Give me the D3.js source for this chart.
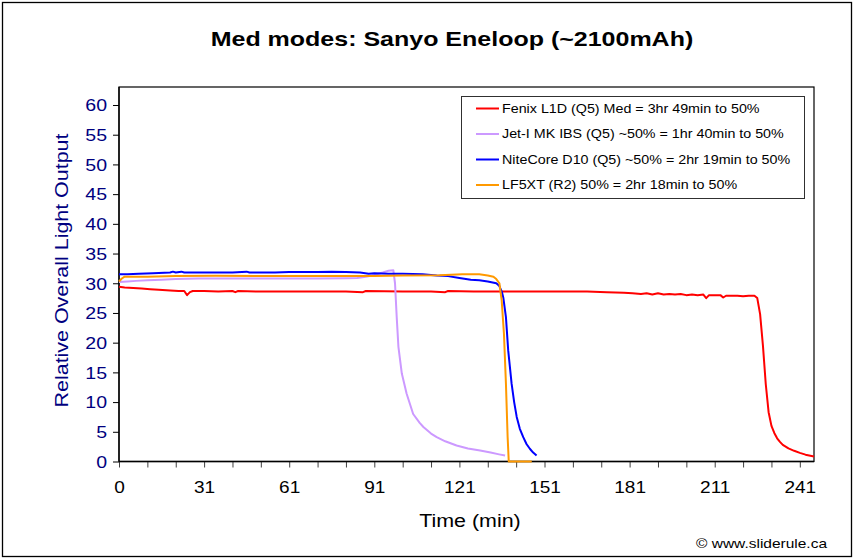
<!DOCTYPE html>
<html><head><meta charset="utf-8">
<script src="https://cdn.jsdelivr.net/npm/d3@7"></script>
<style>body{margin:0;background:#fff}svg{display:block}text{font-family:"Liberation Sans",Arial,sans-serif}</style>
</head><body>
<svg id="c" width="855" height="560"></svg>
<script>
const title = "Med modes: Sanyo Eneloop (~2100mAh)";
const xTitle = "Time (min)";
const yTitle = "Relative Overall Light Output";
const credit = "\u00A9 www.sliderule.ca";
const xTickIndex = [0,30,60,90,120,150,180,210,240];
const xTickLabels = ["0","31","61","91","121","151","181","211","241"];
const yTicks = [0,5,10,15,20,25,30,35,40,45,50,55,60];
const seriesNames = [
  "Fenix L1D (Q5) Med = 3hr 49min to 50%",
  "Jet-I MK IBS (Q5) ~50% = 1hr 40min to 50%",
  "NiteCore D10 (Q5) ~50% = 2hr 19min to 50%",
  "LF5XT (R2) 50% = 2hr 18min to 50%"
];
const seriesColors = ["#FF0000","#CC99FF","#0000FF","#FF9900"];

const fenixT = [0,2,5,8,11,14,18,21,23,24,25,26,30,35,40,41,42,50,60,70,80,86,87,100,110,115,116,125,135,145,155,165,172,178,181,184,186,188,190,192,194,196,198,200,202,204,206,207,208,210,212,213,214,216,218,220,222,224,225,226,227,228,229,230,231,232,233,234,236,238,240,242,245];
const fenixV = [29.4,29.3,29.2,29.1,29.0,28.9,28.8,28.7,28.7,28.0,28.5,28.7,28.7,28.6,28.7,28.5,28.7,28.6,28.6,28.6,28.6,28.5,28.7,28.6,28.6,28.5,28.7,28.6,28.6,28.6,28.6,28.6,28.5,28.4,28.3,28.2,28.3,28.1,28.3,28.1,28.2,28.1,28.2,28.0,28.1,28.0,28.1,27.5,28.0,28.0,28.0,27.6,27.9,27.9,27.9,27.8,27.9,27.9,27.5,24.8,19.5,13.0,8.3,6.0,4.8,3.9,3.3,2.8,2.2,1.8,1.45,1.15,0.85];

const jetT = [0,3,6,10,15,20,28,40,50,60,70,80,84,87,90,93,95,96.7,97.3,97.9,98.5,99.7,101.4,103.7,106,107.3,110,112,115,119,123,127.3,131,134,136.1];
const jetV = [30.2,30.3,30.4,30.5,30.6,30.7,30.8,30.8,30.8,30.8,30.8,30.85,30.9,31.1,31.4,31.8,32.1,32.2,30.0,24.3,19.3,14.8,11.4,8.0,6.5,5.8,4.7,4.1,3.4,2.7,2.2,1.85,1.5,1.2,1.0];

const niteT = [0,3,7,12,18,19,20,22,23,30,40,45,46,55,60,70,75,80,85,88,90,95,100,107,112,116,120,124,127,130,133,134,135,135.5,136.4,137.2,138.4,139.3,140.2,141.3,142.5,143.7,144.9,146,147.2];
const niteV = [31.5,31.5,31.6,31.7,31.8,31.95,31.8,31.95,31.8,31.8,31.8,31.95,31.8,31.8,31.9,31.9,31.95,31.9,31.8,31.6,31.7,31.6,31.6,31.5,31.3,31.2,30.9,30.6,30.5,30.3,30.0,29.6,28.5,27.5,24.3,18.7,13.1,10.0,7.5,5.5,4.1,2.9,2.1,1.5,1.0];

const lfT = [0,1,2,10,20,34,50,70,90,100,113,121,127,130,132,133,134.1,134.9,135.7,136.4,137,137.4,145.5];
const lfV = [30.3,30.8,31.1,31.1,31.2,31.25,31.2,31.2,31.2,31.3,31.35,31.5,31.5,31.3,31.1,30.7,30.0,27.1,21.5,13.1,4.1,0,0];

const seriesT = [fenixT, jetT, niteT, lfT];
const seriesV = [fenixV, jetV, niteV, lfV];

const svg = d3.select("#c");
const K = 1.19; // horizontal text stretch seen in the reference
function stretch(sel, k) {
  sel.each(function () {
    const w = this.getComputedTextLength();
    this.setAttribute("textLength", w * k);
    this.setAttribute("lengthAdjust", "spacingAndGlyphs");
  });
  return sel;
}

// outer frame
svg.append("rect").attr("x", 2.5).attr("y", 2.5).attr("width", 849).attr("height", 554)
  .attr("fill", "#fff").attr("stroke", "#000").attr("stroke-width", 1.3);

const L = 119, R = 814, T = 87, B = 461.5;
const x = d3.scaleLinear().domain([0, 245]).range([L, R]);
const y = d3.scaleLinear().domain([0, 60]).range([B, 105]);

// plot area
svg.append("rect").attr("x", L).attr("y", T).attr("width", R - L).attr("height", B - T)
  .attr("fill", "#fff").attr("stroke", "#000").attr("stroke-width", 1.2);

// title
stretch(svg.append("text").attr("x", 452).attr("y", 46).attr("text-anchor", "middle")
  .attr("font-size", 21).attr("font-weight", "bold").attr("fill", "#000").text(title), K);

// y axis
const yAxis = d3.axisLeft(y).tickValues(yTicks).tickSize(6).tickPadding(6).tickFormat(d3.format("d"));
const gy = svg.append("g").attr("transform", `translate(${L},0)`).call(yAxis);
gy.select(".domain").remove();
gy.selectAll(".tick line").attr("stroke", "#000");
gy.selectAll(".tick text").attr("font-size", 16).attr("fill", "#000080")
  .attr("font-family", '"Liberation Sans",Arial,sans-serif').attr("dy", "0.36em");
stretch(gy.selectAll(".tick text"), 1.22);

// x axis
const ticks10 = d3.range(0, 246, 10);
const xAxis = d3.axisBottom(x).tickValues(ticks10).tickSize(6).tickPadding(13)
  .tickFormat(d => { const i = xTickIndex.indexOf(d); return i >= 0 ? xTickLabels[i] : ""; });
const gx = svg.append("g").attr("transform", `translate(0,${B})`).call(xAxis);
gx.select(".domain").remove();
gx.selectAll(".tick line").attr("stroke", "#404040");
gx.selectAll(".tick text").attr("font-size", 17).attr("fill", "#000")
  .attr("font-family", '"Liberation Sans",Arial,sans-serif');
stretch(gx.selectAll(".tick text").filter(function(){return this.textContent !== "";}), 1.12);

// axis lines
svg.append("line").attr("x1", L).attr("x2", L).attr("y1", T).attr("y2", B).attr("stroke", "#000").attr("stroke-width", 1.3);
svg.append("line").attr("x1", L).attr("x2", R).attr("y1", B).attr("y2", B).attr("stroke", "#000").attr("stroke-width", 1.3);

// axis titles
stretch(svg.append("text").attr("x", 470).attr("y", 527).attr("text-anchor", "middle")
  .attr("font-size", 18).attr("fill", "#000").text(xTitle), K);
stretch(svg.append("text").attr("transform", "translate(68,270.5) rotate(-90)").attr("text-anchor", "middle")
  .attr("font-size", 18).attr("fill", "#000080").text(yTitle), K);

// series
const line = d3.line().x(d => x(d[0])).y(d => y(d[1]));
seriesT.forEach((ts, s) => {
  const pts = ts.map((t, i) => [t, seriesV[s][i]]);
  svg.append("path").datum(pts).attr("d", line).attr("fill", "none")
    .attr("stroke", seriesColors[s]).attr("stroke-width", 2).attr("stroke-linejoin", "round");
});

// legend
const lg = svg.append("g");
lg.append("rect").attr("x", 461.5).attr("y", 96.5).attr("width", 343).attr("height", 102)
  .attr("fill", "#fff").attr("stroke", "#303030").attr("stroke-width", 1);
seriesNames.forEach((n, i) => {
  const yy = 108.5 + i * 25.5;
  lg.append("line").attr("x1", 476).attr("x2", 499).attr("y1", yy).attr("y2", yy)
    .attr("stroke", seriesColors[i]).attr("stroke-width", 2);
  stretch(lg.append("text").attr("x", 502).attr("y", yy + 4.3).attr("font-size", 12)
    .attr("fill", "#000").text(n), K);
});

// credit
stretch(svg.append("text").attr("x", 827).attr("y", 548).attr("text-anchor", "end")
  .attr("font-size", 13).attr("fill", "#000").text(credit), K);
</script>
</body></html>
